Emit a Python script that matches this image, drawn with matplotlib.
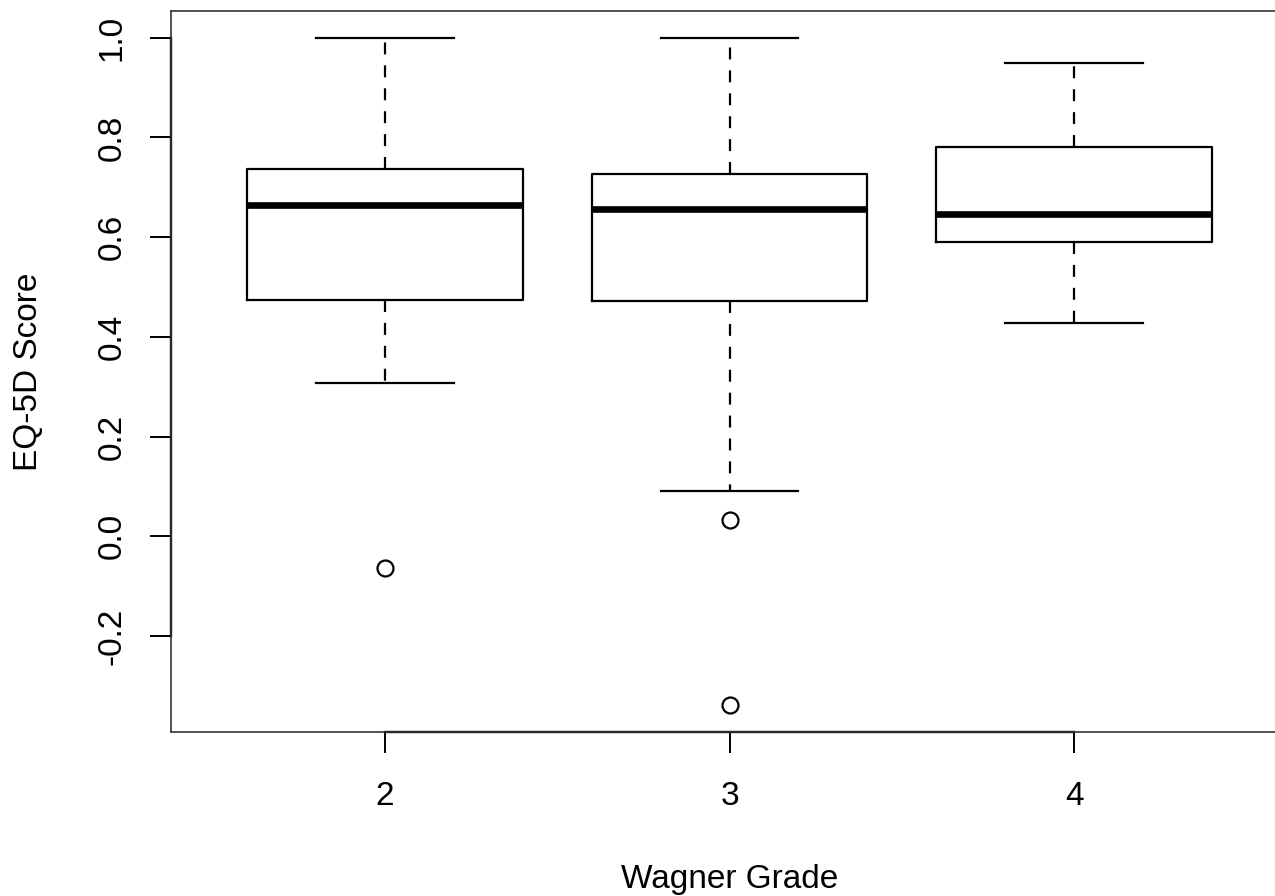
import matplotlib
matplotlib.use("Agg")
import matplotlib.pyplot as plt
import numpy as np

# values (R style)
grades = ["2", "3", "4"]
q1 = [0.474, 0.471, 0.591]
medians = [0.664, 0.656, 0.647]
q3 = [0.736, 0.726, 0.780]
whisk_lo = [0.308, 0.090, 0.427]
whisk_hi = [1.000, 1.000, 0.950]
outliers = [[-0.063], [0.032, -0.339], []]

yticks = [-0.2, 0.0, 0.2, 0.4, 0.6, 0.8, 1.0]
ytick_labels = ["-0.2", "0.0", "0.2", "0.4", "0.6", "0.8", "1.0"]

plt.rcParams["font.family"] = ["Liberation Sans", "DejaVu Sans"]
plt.rcParams["lines.scale_dashes"] = False

fig = plt.figure(figsize=(12.75, 8.96), dpi=100)
# R leaves the right part of the plot off the picture, so the axes run past the edge
ax = fig.add_axes([171 / 1275, 164 / 896, (1288 - 171) / 1275, (732 - 11) / 896])

stats = []
for i in range(len(grades)):
    stats.append({"med": medians[i], "q1": q1[i], "q3": q3[i],
                  "whislo": whisk_lo[i], "whishi": whisk_hi[i],
                  "fliers": outliers[i], "label": grades[i]})

pos = np.arange(1, len(grades) + 1)
ax.bxp(stats, positions=pos, widths=0.8, capwidths=0.4,
       boxprops=dict(color="black", linewidth=1.6),
       medianprops=dict(color="black", linewidth=4.8, solid_capstyle="butt"),
       whiskerprops=dict(color="black", linewidth=1.6, linestyle=(0, (8.6, 7.9))),
       capprops=dict(color="black", linewidth=1.6),
       flierprops=dict(marker="o", markerfacecolor="none", markeredgecolor="black",
                       markersize=11.5, markeredgewidth=1.6, linestyle="none"))

# R style limits: 4% padding around the data range
allvals = whisk_lo + whisk_hi + [v for o in outliers for v in o]
lo, hi = min(allvals), max(allvals)
pad = 0.04 * (hi - lo)
ax.set_ylim(lo - pad, hi + pad)
ax.set_xlim(0.5 - 0.04 * 3, len(grades) + 0.5 + 0.04 * 3)

for s in ax.spines.values():
    s.set_linewidth(1.2)
    s.set_color("#333333")

ax.set_yticks(yticks)
ax.set_yticklabels(ytick_labels, rotation=90, va="center")
ax.set_xticks(pos)
ax.set_xticklabels(grades)
ax.tick_params(axis="both", length=15, width=1.4, color="black", labelsize=24, direction="out")
ax.tick_params(axis="x", pad=20)
ax.tick_params(axis="y", pad=16)

# axis lines drawn between first and last tick, like R's axis()
ax.plot([pos[0], pos[-1]], [lo - pad, lo - pad], color="black", lw=1.7, clip_on=False)
ax.plot([0.5 - 0.12, 0.5 - 0.12], [yticks[0], yticks[-1]], color="black", lw=1.7, clip_on=False)

fig.text(729.5 / 1275, 1 - 888 / 896, "Wagner Grade", fontsize=24, ha="center", va="baseline")
fig.text(29 / 1275, 1 - 372 / 896, "EQ-5D Score", fontsize=24, ha="center", va="center", rotation=90)

plt.savefig("out.png", dpi=100)
